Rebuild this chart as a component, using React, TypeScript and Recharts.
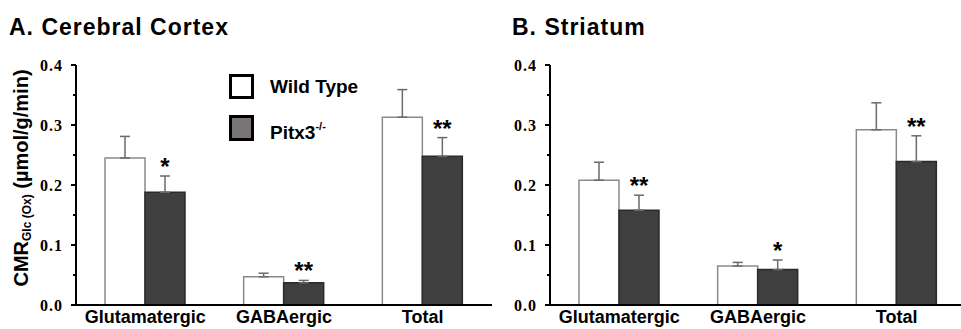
import React from 'react';
import { BarChart, Bar, XAxis, YAxis, ErrorBar, LabelList, Legend } from 'recharts';

const categories = ['Glutamatergic', 'GABAergic', 'Total'];
const yTicks = [0, 0.05, 0.1, 0.15, 0.2, 0.25, 0.3, 0.35, 0.4];

const cortexWT = [0.245, 0.047, 0.313];
const cortexWTErr = [0.036, 0.006, 0.046];
const cortexPitx = [0.188, 0.037, 0.248];
const cortexPitxErr = [0.027, 0.004, 0.031];
const cortexSig = ['*', '**', '**'];

const striatumWT = [0.208, 0.065, 0.292];
const striatumWTErr = [0.030, 0.006, 0.045];
const striatumPitx = [0.158, 0.059, 0.239];
const striatumPitxErr = [0.025, 0.016, 0.043];
const striatumSig = ['**', '*', '**'];

const seriesNames = ['Wild Type', 'Pitx3'];

const SANS = '"Liberation Sans", Arial, sans-serif';
const SERIF = '"Liberation Serif", "Times New Roman", serif';
const PITX_FILL = '#3f3f3f';
const LEGEND_PITX = '#7a7575';

function buildRows(wt: number[], wtErr: number[], px: number[], pxErr: number[], sig: string[]) {
  return categories.map((c, i) => ({
    name: c,
    wt: wt[i],
    wtE: [0, wtErr[i]],
    px: px[i],
    pxE: [0, pxErr[i]],
    pxErr: pxErr[i],
    sig: sig[i],
  }));
}

const cortexRows = buildRows(cortexWT, cortexWTErr, cortexPitx, cortexPitxErr, cortexSig);
const striatumRows = buildRows(striatumWT, striatumWTErr, striatumPitx, striatumPitxErr, striatumSig);

const YTick = (props: any) => {
  const { x, y, payload } = props;
  const v = payload.value as number;
  const major = Math.round(v * 100) % 10 === 0;
  return (
    <g>
      <line x1={x - (major ? 5 : 3)} x2={x} y1={y} y2={y} stroke="#000" strokeWidth={2} />
      {major && (
        <text x={x - 13} y={y} dy={5.5} textAnchor="end" fontFamily={SERIF} fontWeight="bold" fontSize={16} fill="#000" letterSpacing={1}>
          {v.toFixed(1)}
        </text>
      )}
    </g>
  );
};

const XTick = (props: any) => {
  const { x, y, payload } = props;
  return (
    <text x={x} y={y + 18} textAnchor="middle" fontFamily={SANS} fontWeight="bold" fontSize={18} fill="#000">
      {payload.value}
    </text>
  );
};

const makeSigLabel = (rows: any[]) => (props: any) => {
  const vb = props.viewBox || props;
  const x = vb.x ?? props.x;
  const y = vb.y ?? props.y;
  const w = vb.width ?? props.width;
  const h = Math.abs(vb.height ?? props.height);
  const idx = props.index;
  const row = rows[idx];
  if (!row) return null;
  const pxPerUnit = h / row.px;
  const errTop = y - row.pxErr * pxPerUnit;
  return (
    <text x={x + w / 2} y={errTop - 1} textAnchor="middle" fontFamily={SANS} fontWeight="bold" fontSize={24} fill="#000">
      {row.sig}
    </text>
  );
};

const LegendContent = () => (
  <div style={{ fontFamily: SANS, fontWeight: 'bold', fontSize: 19, color: '#000' }}>
    <div style={{ position: 'absolute', left: 0, top: 0, width: 25, height: 25, border: '3px solid #000', boxSizing: 'border-box', background: '#fff' }} />
    <div style={{ position: 'absolute', left: 41, top: 0, lineHeight: '25px', whiteSpace: 'nowrap' }}>{seriesNames[0]}</div>
    <div style={{ position: 'absolute', left: 0, top: 41, width: 25, height: 26, border: '3px solid #000', boxSizing: 'border-box', background: LEGEND_PITX }} />
    <div style={{ position: 'absolute', left: 41, top: 41, lineHeight: '26px', whiteSpace: 'nowrap' }}>
      {seriesNames[1]}
      <sup style={{ fontSize: 11, position: 'relative', top: -2 }}>-/-</sup>
    </div>
  </div>
);

function Panel({ rows, showLegend }: { rows: any[]; showLegend?: boolean }) {
  return (
    <BarChart width={492} height={329} data={rows} margin={{ top: 65, right: 0, bottom: 0, left: 0 }} barGap={0} barSize={40}>
      <XAxis
        dataKey="name"
        height={24}
        tickSize={0}
        tickMargin={0}
        tickLine={false}
        axisLine={{ stroke: '#000', strokeWidth: 2 }}
        tick={<XTick />}
        interval={0}
      />
      <YAxis
        width={76}
        domain={[0, 0.4]}
        ticks={yTicks}
        interval={0}
        tickSize={0}
        tickMargin={0}
        tickLine={false}
        axisLine={{ stroke: '#000', strokeWidth: 2 }}
        tick={<YTick />}
      />
      {showLegend && (
        <Legend
          content={<LegendContent />}
          layout="vertical"
          align="center"
          verticalAlign="middle"
          wrapperStyle={{ position: 'absolute', left: 229, top: 74, width: 160, height: 70 }}
        />
      )}
      <Bar dataKey="wt" name={seriesNames[0]} fill="#fff" stroke="#8a8a8a" strokeWidth={1.5} isAnimationActive={false}>
        <ErrorBar dataKey="wtE" direction="y" width={5} stroke="#6a6a6a" strokeWidth={1.5} />
      </Bar>
      <Bar dataKey="px" name={seriesNames[1]} fill={PITX_FILL} stroke="#2a2a2a" strokeWidth={1.5} isAnimationActive={false}>
        <ErrorBar dataKey="pxE" direction="y" width={5} stroke="#6a6a6a" strokeWidth={1.5} />
        <LabelList dataKey="px" content={makeSigLabel(rows)} />
      </Bar>
    </BarChart>
  );
}

export default function App() {
  return (
    <div style={{ position: 'absolute', left: 0, top: 0, width: 961, height: 329, overflow: 'hidden', background: '#fff' }}>
      <div style={{ position: 'absolute', left: 0, top: 0 }}>
        <Panel rows={cortexRows} showLegend />
      </div>
      <div style={{ position: 'absolute', left: 474, top: 0 }}>
        <Panel rows={striatumRows} />
      </div>
      <svg width={961} height={329} style={{ position: 'absolute', left: 0, top: 0, pointerEvents: 'none' }}>
        <text x={9} y={35} fontFamily={SANS} fontWeight="bold" fontSize={23} letterSpacing={1} fill="#000">A. Cerebral Cortex</text>
        <text x={512} y={35} fontFamily={SANS} fontWeight="bold" fontSize={23} letterSpacing={1} fill="#000">B. Striatum</text>
        <text transform="translate(28,178) rotate(-90)" textAnchor="middle" fontFamily={SANS} fontWeight="bold" fontSize={20} fill="#000">
          CMR
          <tspan fontSize={12} dy={3}>Glc (Ox)</tspan>
          <tspan dy={-3}> (µmol/g/min)</tspan>
        </text>
      </svg>
    </div>
  );
}
